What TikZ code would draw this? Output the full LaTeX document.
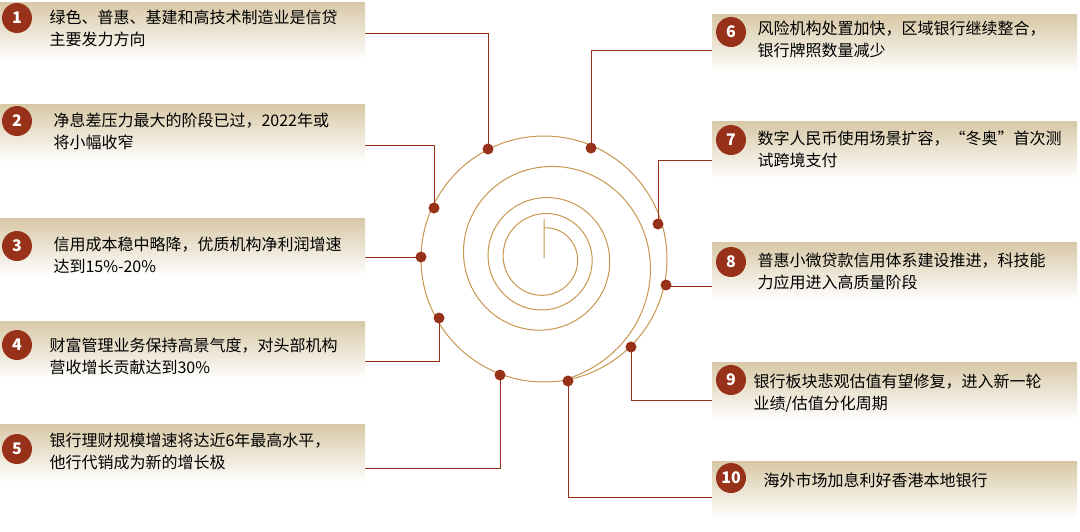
\documentclass[tikz,border=0pt]{standalone}
\usepackage{fontspec}
\setmainfont{Noto Sans CJK SC}
\begin{document}
\begin{tikzpicture}[x=1pt,y=-1pt,
 box/.style={minimum width=365pt,minimum height=58pt,inner sep=0pt,top color=boxtan,bottom color=white,draw=none,anchor=north west},
 num/.style={circle,fill=numred,text=white,font=\bfseries\fontsize{16}{16}\selectfont,minimum size=30pt,inner sep=0pt},
 txt/.style={font=\fontsize{16}{22}\selectfont,align=left,anchor=west,text width=330pt},
 con/.style={draw=numred,line width=1pt},
 dot/.style={circle,fill=numred,minimum size=11pt,inner sep=0pt}]
\definecolor{boxtan}{HTML}{D8C8A6}
\definecolor{numred}{HTML}{98311A}
\definecolor{spir}{HTML}{C8964F}
\useasboundingbox (0,0) rectangle (1080,531);
\node[box] (b1) at (0,2) {};
\node[box] (b2) at (0,104) {};
\node[box] (b3) at (0,218) {};
\node[box] (b4) at (0,321) {};
\node[box] (b5) at (0,424) {};
\node[box] (b6) at (712,14) {};
\node[box] (b7) at (712,121) {};
\node[box] (b8) at (712,242) {};
\node[box] (b9) at (712,362) {};
\node[box] (b10) at (712,461) {};
\node[num] (n1) at (17,18) {1};
\node[num] (n2) at (17,121) {2};
\node[num] (n3) at (17,246) {3};
\node[num] (n4) at (17,345) {4};
\node[num] (n5) at (17,449) {5};
\node[num] (n6) at (731,32) {6};
\node[num] (n7) at (731,140) {7};
\node[num] (n8) at (731,262) {8};
\node[num] (n9) at (731,380) {9};
\node[num] (n10) at (731,478) {10};
\node[txt] (t1) at (46,28) {绿色、普惠、基建和高技术制造业是信贷\\主要发力方向};
\node[txt] (t2) at (50,131) {净息差压力最大的阶段已过，2022年或\\将小幅收窄};
\node[txt] (t3) at (50,255) {信用成本稳中略降，优质机构净利润增速\\达到15\%-20\%};
\node[txt] (t4) at (46,356) {财富管理业务保持高景气度，对头部机构\\营收增长贡献达到30\%};
\node[txt] (t5) at (46,451) {银行理财规模增速将达近6年最高水平，\\他行代销成为新的增长极};
\node[txt] (t6) at (754,39) {风险机构处置加快，区域银行继续整合，\\银行牌照数量减少};
\node[txt] (t7) at (754,149) {数字人民币使用场景扩容，“冬奥”首次测\\试跨境支付};
\node[txt] (t8) at (754,271) {普惠小微贷款信用体系建设推进，科技能\\力应用进入高质量阶段};
\node[txt] (t9) at (750,393) {银行板块悲观估值有望修复，进入新一轮\\业绩/估值分化周期};
\node[txt] (t10) at (760,480) {海外市场加息利好香港本地银行};
\draw[spir,line width=1pt] (544,259) circle (123);
\draw[spir,line width=1pt] (544,258) -- (544,219)
  plot[domain=0:1249,samples=400,smooth] ({544+(30+\x/1249*50+(\x/1249)^6*43)*cos(90-\x)},{258-(30+\x/1249*50+(\x/1249)^6*43)*sin(90-\x)});
\node[dot] (d1) at (488,149) {};
\node[dot] (d2) at (434,208) {};
\node[dot] (d3) at (421,257) {};
\node[dot] (d4) at (439,318) {};
\node[dot] (d5) at (500,375) {};
\node[dot] (d6) at (591,148) {};
\node[dot] (d7) at (658,224) {};
\node[dot] (d8) at (666,285) {};
\node[dot] (d9) at (631,347) {};
\node[dot] (d10) at (568,381) {};
\draw[con] (d1.center) |- (b1.east |- 0,33);
\draw[con] (d2.center) |- (b2.east |- 0,145);
\draw[con] (d3.center) -- (b3.east |- d3);
\draw[con] (d4.center) |- (b4.east |- 0,361);
\draw[con] (d5.center) |- (b5.east |- 0,468);
\draw[con] (d6.center) |- (b6.west |- 0,50);
\draw[con] (d7.center) |- (b7.west |- 0,160);
\draw[con] (d8.center) |- (b8.west |- 0,286);
\draw[con] (d9.center) |- (b9.west |- 0,400);
\draw[con] (d10.center) |- (b10.west |- 0,497);
\end{tikzpicture}
\end{document}
